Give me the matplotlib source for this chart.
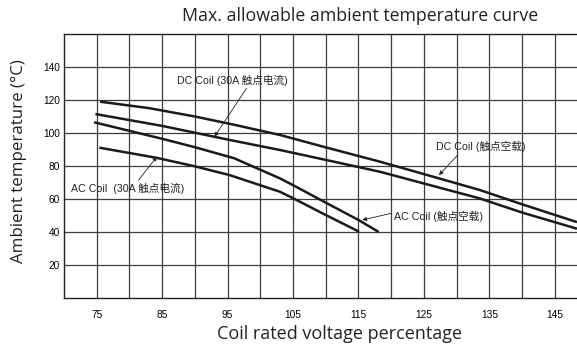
import matplotlib
matplotlib.use("Agg")
import matplotlib.pyplot as plt
from matplotlib.ticker import MultipleLocator

# curves (coil voltage %, ambient temp degC)
dc_load_x = [75.5, 83.1, 90, 96, 103, 110, 118.3, 125, 133.5, 140, 148.4]
dc_load_y = [119, 115.0, 110.0, 105, 98.8, 91.3, 82.6, 75.1, 65.5, 56.8, 46.0]

dc_noload_x = [74.8, 85, 95.3, 103, 110, 118.3, 125, 133.5, 140, 148.4]
dc_noload_y = [111.5, 104.3, 95.8, 89.7, 83.7, 76.5, 69.4, 60.4, 51.8, 42.0]

ac_noload_x = [74.6, 85, 90, 96, 103, 105, 110, 115, 118.1]
ac_noload_y = [106.5, 96.5, 91.4, 84.7, 72.5, 68.4, 57.8, 47.3, 40.0]

ac_load_x = [75.4, 84.1, 90, 95.3, 103, 105, 110, 115.1]
ac_load_y = [91.1, 85.0, 79.8, 74.5, 64.4, 60.5, 50.3, 40.2]

x_ticks = [75, 85, 95, 105, 115, 125, 135, 145]
y_ticks = [20, 40, 60, 80, 100, 120, 140]

label_font = ['Liberation Sans', 'Noto Sans CJK SC']


def main():
    fig = plt.figure(figsize=(5.77, 3.46), dpi=100)
    ax = fig.add_axes([64 / 577, 48 / 346, 513 / 577, 264 / 346])

    ax.set_xlim(70, 148.4)
    ax.set_ylim(0, 160)

    # grid every 5 % and every 20 degC
    ax.set_xticks(x_ticks)
    ax.set_xticks([v for v in range(80, 150, 10)], minor=True)
    ax.set_yticks(y_ticks)
    ax.grid(True, color='#3c3c3c', lw=0.9)
    ax.xaxis.grid(True, which='minor', color='#3c3c3c', lw=0.9)
    ax.set_axisbelow(True)
    ax.tick_params(which='both', length=0, labelsize=7.3)
    ax.tick_params(axis='x', pad=9)
    ax.tick_params(axis='y', pad=3)
    for lab in ax.get_xticklabels() + ax.get_yticklabels():
        lab.set_family('Liberation Sans')

    for s in ax.spines.values():
        s.set_color('#222222')
        s.set_linewidth(1.0)
    ax.spines['right'].set_visible(False)

    for xs, ys in [(dc_load_x, dc_load_y), (dc_noload_x, dc_noload_y),
                   (ac_noload_x, ac_noload_y), (ac_load_x, ac_load_y)]:
        ax.plot(xs, ys, color='#1a1a1a', lw=1.8, solid_capstyle='butt')

    # labels with arrows
    arrow = dict(arrowstyle='-|>', color='#222222', lw=0.6,
                 mutation_scale=6, shrinkA=0, shrinkB=0)
    ax.annotate('', xy=(93.0, 97.8), xytext=(97.9, 127.1), arrowprops=arrow)
    ax.annotate('', xy=(127.3, 74.5), xytext=(130.2, 86.7), arrowprops=arrow)
    ax.annotate('', xy=(84.2, 85.6), xytext=(81.4, 71.5), arrowprops=arrow)
    ax.annotate('', xy=(115.6, 47.3), xytext=(120.0, 51.3), arrowprops=arrow)

    tkw = dict(fontsize=7.7, family=label_font, color='#222222', va='center')
    ax.text(87.2, 132.1, 'DC Coil (30A 触点电流)', **tkw)
    ax.text(126.8, 91.7, 'DC Coil (触点空载)', **tkw)
    ax.text(71.1, 66.5, 'AC Coil  (30A 触点电流)', **tkw)
    ax.text(120.5, 49.3, 'AC Coil (触点空载)', **tkw)

    fig.text(360 / 577, 1 - 16 / 346, 'Max. allowable ambient temperature curve',
             ha='center', va='center', fontsize=12.8, family='Open Sans',
             color='#222222')
    fig.text(340 / 577, 1 - 334 / 346, 'Coil rated voltage percentage',
             ha='center', va='center', fontsize=13, family='Open Sans',
             color='#222222')
    fig.text(19 / 577, 1 - 161 / 346, 'Ambient temperature (°C)',
             ha='center', va='center', rotation=90, fontsize=12.2,
             family='Open Sans', color='#222222')

    fig.savefig('out.png', dpi=100)


if __name__ == "__main__":
    main()
